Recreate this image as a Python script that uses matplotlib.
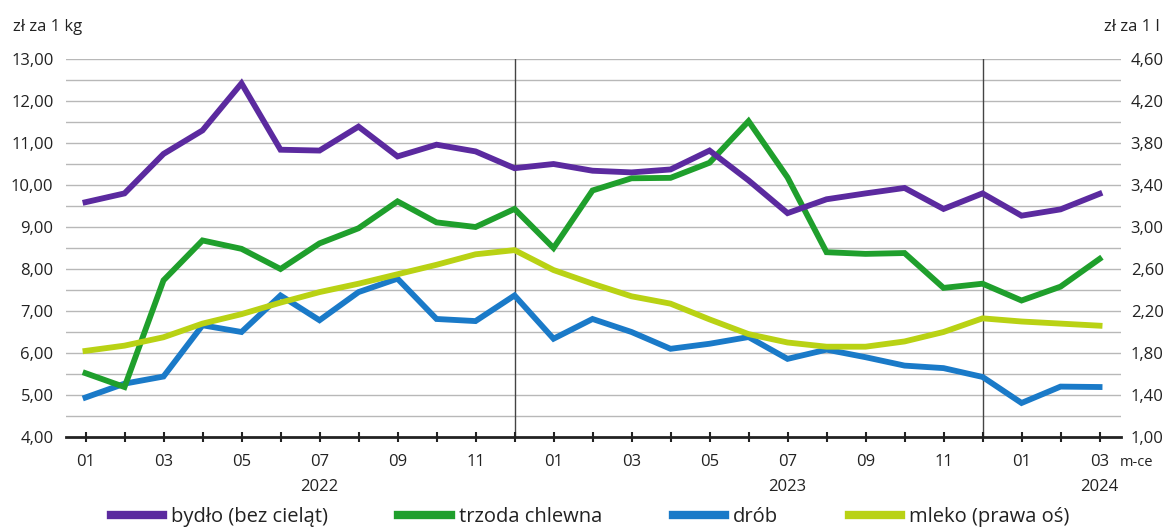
import matplotlib
matplotlib.use("Agg")
import matplotlib.pyplot as plt
from matplotlib.lines import Line2D

plt.rcParams['font.family'] = ['Open Sans', 'DejaVu Sans']
fs = 12
lfs = 14.5

months = ["01", "02", "03", "04", "05", "06", "07", "08", "09", "10", "11", "12",
          "01", "02", "03", "04", "05", "06", "07", "08", "09", "10", "11", "12",
          "01", "02", "03"]

bydlo = [9.59, 9.80, 10.74, 11.30, 12.42, 10.84, 10.82, 11.39, 10.68, 10.96, 10.80, 10.40,
         10.50, 10.34, 10.30, 10.37, 10.82, 10.11, 9.33, 9.66, 9.80, 9.93, 9.43, 9.80,
         9.27, 9.42, 9.79]
trzoda = [5.52, 5.19, 7.73, 8.68, 8.48, 8.00, 8.61, 8.97, 9.61, 9.11, 9.00, 9.43,
          8.50, 9.87, 10.16, 10.17, 10.53, 11.52, 10.18, 8.40, 8.36, 8.38, 7.55, 7.65,
          7.25, 7.58, 8.24]
drob = [4.94, 5.27, 5.44, 6.66, 6.50, 7.37, 6.78, 7.45, 7.77, 6.81, 6.76, 7.37,
        6.34, 6.81, 6.50, 6.10, 6.22, 6.38, 5.86, 6.08, 5.90, 5.70, 5.64, 5.43,
        4.81, 5.20, 5.19]
mleko = [1.82, 1.87, 1.95, 2.08, 2.17, 2.28, 2.38, 2.46, 2.55, 2.64, 2.74, 2.78,
         2.59, 2.46, 2.34, 2.27, 2.12, 1.98, 1.90, 1.86, 1.86, 1.91, 2.00, 2.13,
         2.10, 2.08, 2.06]
years = {6: "2022", 18: "2023", 26: "2024"}

c_bydlo = "#5b2a9f"
c_trzoda = "#1f9f2c"
c_drob = "#1a7ac8"
c_mleko = "#b9d214"
txt = "#222222"

fig = plt.figure(figsize=(11.67, 5.32), dpi=100)
ax = fig.add_axes([66/1167, 1-437/532, (1121-66)/1167, (437-59)/532])
ax2 = ax.twinx()

x = list(range(len(months)))
lw = 4.2
ax.plot(x, bydlo, color=c_bydlo, lw=lw, zorder=5, solid_joinstyle='miter')
ax.plot(x, trzoda, color=c_trzoda, lw=lw, zorder=4, solid_joinstyle='miter')
ax.plot(x, drob, color=c_drob, lw=lw, zorder=3, solid_joinstyle='miter')
ax2.plot(x, mleko, color=c_mleko, lw=lw, zorder=2, solid_joinstyle='miter')

ax.set_xlim(-0.5, 26.55)
ax.set_ylim(4, 13)
ax2.set_ylim(1.0, 4.6)

for v in [4.5 + 0.5 * i for i in range(18)]:
    ax.axhline(v, color="#b8b8b8", lw=1.0, zorder=1)
for xv in [11, 23]:
    ax.axvline(xv, color="#444444", lw=1.0, zorder=1.5)

ax.set_yticks(range(4, 14))
ax.set_yticklabels([f"{v},00" for v in range(4, 14)])
ax2.set_yticks([1.0 + 0.4 * i for i in range(10)])
ax2.set_yticklabels([f"{1.0 + 0.4 * i:.2f}".replace(".", ",") for i in range(10)])

ax.set_xticks(x)
ax.set_xticklabels([m if i % 2 == 0 else "" for i, m in enumerate(months)])

for a in (ax, ax2):
    for s in a.spines.values():
        s.set_visible(False)
ax.spines['bottom'].set_visible(True)
ax.spines['bottom'].set_color(txt)
ax.spines['bottom'].set_linewidth(2.0)

ax.tick_params(axis='y', length=0, labelsize=fs, colors=txt, pad=9)
ax2.tick_params(axis='y', length=0, labelsize=fs, colors=txt, pad=7)
ax.tick_params(axis='x', direction='inout', length=7, width=1.5, color=txt,
               labelsize=fs, labelcolor=txt, pad=9)

for i, yr in years.items():
    ax.text(i, -0.112, yr, transform=ax.get_xaxis_transform(), ha='center', va='top',
            fontsize=fs, color=txt)
fig.text(1120/1167, 1-463/532, "m-ce", ha='left', va='center', fontsize=fs - 1.5, color=txt)

fig.text(13/1167, 1-27/532, "zł za 1 kg", ha='left', va='center', fontsize=fs, color=txt)
fig.text(1160/1167, 1-27/532, "zł za 1 l", ha='right', va='center', fontsize=fs, color=txt)

handles = [Line2D([], [], color=c_bydlo, lw=6),
           Line2D([], [], color=c_trzoda, lw=6),
           Line2D([], [], color=c_drob, lw=6),
           Line2D([], [], color=c_mleko, lw=6)]
labels = ["bydło (bez cieląt)", "trzoda chlewna", "drób", "mleko (prawa oś)"]
fig.legend(handles, labels, loc='center', bbox_to_anchor=(590/1167, 1-517/532), ncol=4,
           frameon=False, fontsize=lfs, handlelength=2.6, handletextpad=0.4,
           columnspacing=3.5, labelcolor=txt)

fig.savefig("out.png", dpi=100)
